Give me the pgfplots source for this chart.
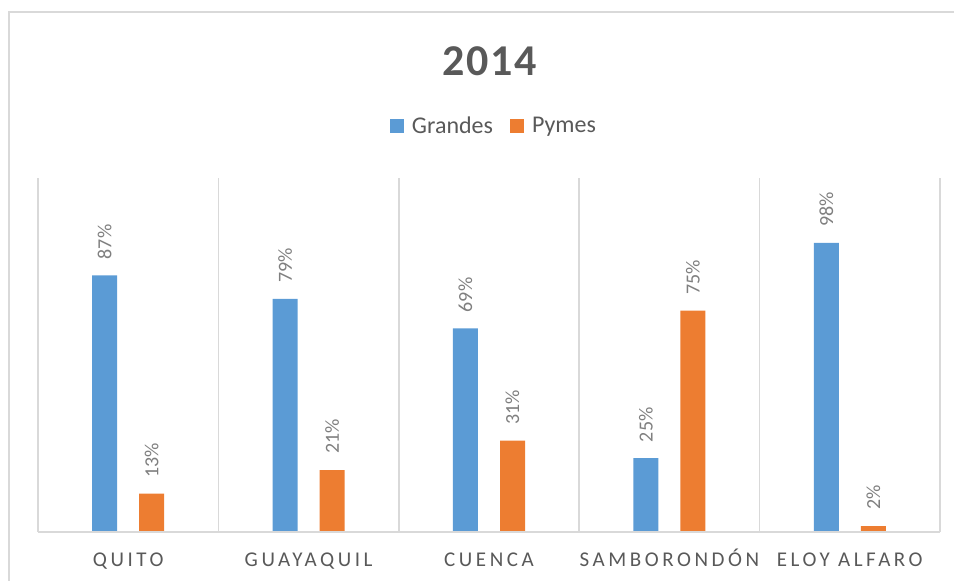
\documentclass[border=0pt]{standalone}
\usepackage{fontspec}
\setmainfont{Carlito}
\newfontfamily\spaced[LetterSpace=17]{Carlito}
\newfontfamily\titlefont[LetterSpace=4]{Carlito}
\usepackage{pgfplots}
\pgfplotsset{compat=1.18}
\definecolor{azul}{HTML}{5B9BD5}
\definecolor{naranja}{HTML}{ED7D31}
\definecolor{rejilla}{HTML}{D9D9D9}
\definecolor{texto}{HTML}{595959}
\definecolor{etiqueta}{HTML}{7F7F7F}

\begin{document}
\begin{tikzpicture}[x=1pt,y=1pt]
\path[use as bounding box] (0,0) rectangle (954,581);
\draw[rejilla, line width=2pt] (9,0) -- (9,569) -- (954,569);
\begin{axis}[
  at={(38pt,49pt)}, anchor=south west,
  scale only axis, width=902pt, height=354pt,
  clip=false,
  ybar, bar width=25pt,
  xmin=-0.5, xmax=4.5, ymin=0, ymax=120,
  xtick={0,...,4},
  xticklabels={QUITO,GUAYAQUIL,CUENCA,SAMBORONDÓN,ELOY ALFARO},
  xticklabel style={font=\spaced\fontsize{21}{25}\selectfont, text=texto, anchor=base, yshift=-35pt},
  major tick length=0pt, minor tick length=0pt,
  minor xtick={-0.5,0.5,...,4.5},
  xminorgrids, minor grid style={rejilla, line width=1.5pt},
  ytick=\empty,
  axis line style={draw=none},
  /pgf/number format/assume math mode=true,
  point meta=y,
  nodes near coords={\pgfmathprintnumber{\pgfplotspointmeta}\%},
  every node near coord/.append style={font=\fontsize{20}{24}\selectfont, text=etiqueta, yshift=16pt, rotate=90, anchor=west, inner sep=0pt},
  legend columns=2,
  legend style={at={(0.5055,1.147)}, anchor=center, draw=none, fill=none,
    font=\fontsize{24}{28}\selectfont, text=texto,
    /tikz/every even column/.append style={column sep=15pt}},
  legend image code/.code={\fill[#1] (0pt,-7pt) rectangle (14pt,7pt); \path (20pt,0pt);},
]
\addplot[fill=azul, draw=none, bar shift=-23.5pt] coordinates {(0,87) (1,79) (2,69) (3,25) (4,98)};
\addplot[fill=naranja, draw=none, bar shift=23.5pt] coordinates {(0,13) (1,21) (2,31) (3,75) (4,2)};
\legend{Grandes,Pymes}
\draw[rejilla, line width=1.5pt] (axis cs:-0.5,0) -- (axis cs:4.5,0);
\end{axis}
\node[font=\titlefont\bfseries\fontsize{44}{50}\selectfont, text=texto] at (490,520) {2014};
\end{tikzpicture}
\end{document}
